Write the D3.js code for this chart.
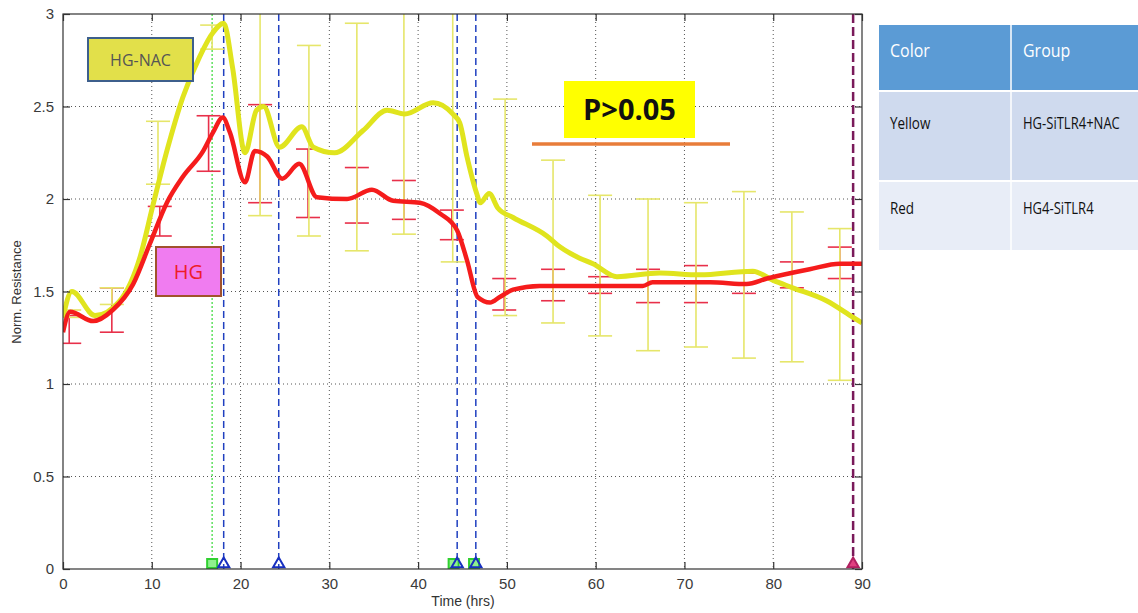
<!DOCTYPE html>
<meta charset="utf-8">
<script src="https://d3js.org/d3.v7.min.js"></script>
<style>
body { margin:0; background:white; overflow:hidden; }
svg { font-family: "Liberation Sans", Arial, sans-serif; }
</style>
<body>
<svg id="chart" width="1138" height="613"></svg>
<script>
// --- data ---
var nacT = [0, 1.0, 3.6, 6.4, 8.7, 10.1, 11.7, 13.5, 15.4, 16.9, 18.1, 19.1, 20.5, 21.8, 22.6, 24.4, 26.9, 28.2, 30.6, 33.8, 36.5, 38.5, 41.7, 43.9, 44.7, 45.5, 46.6, 47.0, 48.0, 49.0, 50.7, 54.5, 56.0, 58.2, 59.7, 62.4, 67.2, 71.7, 77.7, 80.0, 82.2, 86.0, 89.0, 90];
var nacV = [1.36, 1.50, 1.37, 1.45, 1.69, 1.96, 2.26, 2.55, 2.77, 2.90, 2.95, 2.71, 2.25, 2.48, 2.50, 2.28, 2.39, 2.28, 2.25, 2.37, 2.48, 2.46, 2.52, 2.46, 2.41, 2.23, 2.03, 1.98, 2.03, 1.95, 1.90, 1.80, 1.74, 1.68, 1.65, 1.58, 1.60, 1.59, 1.61, 1.56, 1.52, 1.45, 1.36, 1.33];

var hgT = [0, 0.8, 3.4, 5.6, 7.9, 9.8, 11.7, 13.5, 15.8, 16.9, 18.0, 18.8, 20.5, 21.6, 23.0, 24.7, 26.6, 28.6, 32.0, 34.8, 37.2, 40.2, 42.5, 44.4, 45.5, 46.7, 48.1, 49.2, 50.7, 53.7, 58.2, 65.3, 66.4, 72.9, 77.0, 79.3, 84.1, 87.5, 90];
var hgV = [1.28, 1.39, 1.34, 1.40, 1.54, 1.76, 1.98, 2.12, 2.26, 2.36, 2.44, 2.36, 2.09, 2.26, 2.23, 2.11, 2.19, 2.01, 2.00, 2.05, 1.99, 1.98, 1.92, 1.83, 1.67, 1.47, 1.44, 1.47, 1.51, 1.53, 1.53, 1.53, 1.55, 1.55, 1.54, 1.57, 1.62, 1.65, 1.65];

// error bars: time, low, high
var nacErrT  = [0.7, 5.5, 10.7, 16.8, 22.2, 27.7, 33.1, 38.4, 43.9, 49.8, 55.2, 60.5, 65.9, 71.3, 76.7, 82.1, 87.5];
var nacErrLo = [1.36, 1.43, 2.08, 2.81, 1.91, 1.80, 1.72, 1.81, 1.66, 1.37, 1.33, 1.26, 1.18, 1.20, 1.14, 1.12, 1.02];
var nacErrHi = [1.40, 1.52, 2.42, 2.94, 3.10, 2.83, 2.95, 3.10, 3.10, 2.54, 2.21, 2.02, 2.00, 1.98, 2.04, 1.93, 1.84];

var hgErrT  = [0.7, 5.5, 10.9, 16.4, 22.2, 27.6, 33.1, 38.4, 43.8, 49.7, 55.2, 60.5, 65.9, 71.3, 76.7, 82.1, 87.5];
var hgErrLo = [1.22, 1.28, 1.80, 2.15, 1.98, 1.90, 1.87, 1.89, 1.78, 1.40, 1.45, 1.49, 1.44, 1.44, 1.49, 1.52, 1.57];
var hgErrHi = [1.37, 1.52, 1.96, 2.45, 2.51, 2.27, 2.17, 2.10, 1.94, 1.57, 1.62, 1.58, 1.62, 1.64, 1.60, 1.66, 1.74];

// event markers along the time axis
var greenEvents = [16.8, 44.0, 46.3];
var blueEvents  = [18.1, 24.3, 44.4, 46.5];
var purpleEvents = [89.0];

var xTicks = [0, 10, 20, 30, 40, 50, 60, 70, 80, 90];
var yTicks = [0, 0.5, 1, 1.5, 2, 2.5, 3];

var tableHead = ["Color", "Group"];
var tableRows = [["Yellow", "HG-SiTLR4+NAC"], ["Red", "HG4-SiTLR4"]];

// --- layout ---
var mLeft = 63, mTop = 14, w = 799, h = 555;
var svg = d3.select('#chart');

var x = d3.scaleLinear().domain([0, 90]).range([mLeft, mLeft + w]);
var y = d3.scaleLinear().domain([0, 3]).range([mTop + h, mTop]);

var g = svg.append('g');

// grid
g.selectAll('.vgrid').data(xTicks.slice(1, -1)).enter().append('line')
  .attr('x1', function(d){ return x(d); }).attr('x2', function(d){ return x(d); })
  .attr('y1', mTop).attr('y2', mTop + h)
  .attr('stroke', '#555').attr('stroke-width', 1).attr('stroke-dasharray', '1,3');
g.selectAll('.hgrid').data(yTicks.slice(1, -1)).enter().append('line')
  .attr('y1', function(d){ return y(d); }).attr('y2', function(d){ return y(d); })
  .attr('x1', mLeft).attr('x2', mLeft + w)
  .attr('stroke', '#555').attr('stroke-width', 1).attr('stroke-dasharray', '1,3');

// clip for plot contents
svg.append('clipPath').attr('id', 'plotclip').append('rect')
  .attr('x', mLeft).attr('y', mTop).attr('width', w).attr('height', h);
var plot = svg.append('g').attr('clip-path', 'url(#plotclip)');

// event lines
plot.selectAll('.gl').data(greenEvents.slice(0, 1)).enter().append('line')
  .attr('x1', function(d){ return x(d); }).attr('x2', function(d){ return x(d); })
  .attr('y1', mTop).attr('y2', mTop + h)
  .attr('stroke', '#5ee05e').attr('stroke-width', 1.5).attr('stroke-dasharray', '2,2');
plot.selectAll('.bl').data(blueEvents).enter().append('line')
  .attr('x1', function(d){ return x(d); }).attr('x2', function(d){ return x(d); })
  .attr('y1', mTop).attr('y2', mTop + h)
  .attr('stroke', '#2040c0').attr('stroke-width', 1.5).attr('stroke-dasharray', '7,4');
plot.selectAll('.pl').data(purpleEvents).enter().append('line')
  .attr('x1', function(d){ return x(d); }).attr('x2', function(d){ return x(d); })
  .attr('y1', mTop).attr('y2', mTop + h)
  .attr('stroke', '#7a1a5a').attr('stroke-width', 2.5).attr('stroke-dasharray', '9,4');

// error bars
function errBars(ts, lo, hi, color) {
  var data = ts.map(function(t, i){ return {t: t, lo: lo[i], hi: hi[i]}; });
  var eg = plot.append('g').attr('stroke', color).attr('stroke-width', 1.6);
  eg.selectAll('.v').data(data).enter().append('line')
    .attr('x1', function(d){ return x(d.t); }).attr('x2', function(d){ return x(d.t); })
    .attr('y1', function(d){ return y(d.lo); }).attr('y2', function(d){ return y(d.hi); });
  eg.selectAll('.c1').data(data).enter().append('line')
    .attr('x1', function(d){ return x(d.t) - 12; }).attr('x2', function(d){ return x(d.t) + 12; })
    .attr('y1', function(d){ return y(d.lo); }).attr('y2', function(d){ return y(d.lo); });
  eg.selectAll('.c2').data(data).enter().append('line')
    .attr('x1', function(d){ return x(d.t) - 12; }).attr('x2', function(d){ return x(d.t) + 12; })
    .attr('y1', function(d){ return y(d.hi); }).attr('y2', function(d){ return y(d.hi); });
}
errBars(hgErrT, hgErrLo, hgErrHi, '#e8304a');
errBars(nacErrT, nacErrLo, nacErrHi, '#e6e66a');

// curves
var line = d3.line().x(function(d){ return x(d[0]); }).y(function(d){ return y(d[1]); })
  .curve(d3.curveMonotoneX);
plot.append('path').datum(d3.zip(nacT, nacV)).attr('d', line)
  .attr('fill', 'none').attr('stroke', '#e0e41e').attr('stroke-width', 5).attr('stroke-linejoin', 'round');
plot.append('path').datum(d3.zip(hgT, hgV)).attr('d', line)
  .attr('fill', 'none').attr('stroke', '#f51c1c').attr('stroke-width', 4.5).attr('stroke-linejoin', 'round');

// bottom markers
plot.selectAll('.gm').data(greenEvents).enter().append('rect')
  .attr('x', function(d){ return x(d) - 5; }).attr('y', mTop + h - 10)
  .attr('width', 10).attr('height', 9)
  .attr('fill', '#8ff08f').attr('stroke', '#30d030').attr('stroke-width', 2);
var tri = d3.symbol().type(d3.symbolTriangle).size(55);
plot.selectAll('.bm').data(blueEvents).enter().append('path')
  .attr('d', tri).attr('transform', function(d){ return 'translate(' + x(d) + ',' + (mTop + h - 5) + ')'; })
  .attr('fill', 'none').attr('stroke', '#1830c0').attr('stroke-width', 2);
plot.selectAll('.pm').data(purpleEvents).enter().append('path')
  .attr('d', tri).attr('transform', function(d){ return 'translate(' + x(d) + ',' + (mTop + h - 5) + ')'; })
  .attr('fill', '#e04080').attr('stroke', '#b02060').attr('stroke-width', 2);

// axes box
var axColor = '#333';
svg.append('rect').attr('x', mLeft).attr('y', mTop).attr('width', w).attr('height', h)
  .attr('fill', 'none').attr('stroke', axColor).attr('stroke-width', 1.2);

var xa = svg.append('g').attr('transform', 'translate(0,' + (mTop + h) + ')')
  .call(d3.axisBottom(x).tickValues(xTicks).tickSize(-7).tickPadding(9).tickFormat(d3.format('d')));
var xTop = svg.append('g').attr('transform', 'translate(0,' + mTop + ')')
  .call(d3.axisTop(x).tickValues(xTicks).tickSize(-7).tickFormat(''));
var ya = svg.append('g').attr('transform', 'translate(' + mLeft + ',0)')
  .call(d3.axisLeft(y).tickValues(yTicks).tickSize(-7).tickPadding(9).tickFormat(function(d){ return d; }));
var yRight = svg.append('g').attr('transform', 'translate(' + (mLeft + w) + ',0)')
  .call(d3.axisRight(y).tickValues(yTicks).tickSize(-7).tickFormat(''));
[xa, xTop, ya, yRight].forEach(function(a){
  a.select('.domain').remove();
  a.selectAll('line').attr('stroke', axColor).attr('stroke-width', 1.2);
  a.selectAll('text').attr('fill', '#3a3a3a').style('font-size', '15px').style('font-family', '"Liberation Sans", Arial, sans-serif');
});

// axis titles
svg.append('text').attr('x', 463).attr('y', 606).attr('text-anchor', 'middle')
  .style('font-size', '14px').attr('fill', '#333').text('Time (hrs)');
svg.append('text').attr('transform', 'translate(21,292) rotate(-90)').attr('text-anchor', 'middle')
  .style('font-size', '13px').attr('fill', '#333').text('Norm. Resistance');

// annotation boxes
svg.append('rect').attr('x', 88).attr('y', 38).attr('width', 105).attr('height', 43)
  .attr('fill', '#e2e04a').attr('stroke', '#3d5f8c').attr('stroke-width', 2);
svg.append('text').attr('x', 140.5).attr('y', 66).attr('text-anchor', 'middle')
  .style('font-size', '16px').style('font-family', '"Open Sans", sans-serif').attr('fill', '#555').text('HG-NAC');

svg.append('rect').attr('x', 156).attr('y', 247).attr('width', 65).attr('height', 49)
  .attr('fill', '#f07cf0').attr('stroke', '#a0522d').attr('stroke-width', 2);
svg.append('text').attr('x', 188.5).attr('y', 279).attr('text-anchor', 'middle')
  .style('font-size', '20px').style('font-family', '"Open Sans", sans-serif').attr('fill', '#ee1c2a').text('HG');

svg.append('rect').attr('x', 564).attr('y', 81).attr('width', 131).attr('height', 57)
  .attr('fill', '#ffff00');
svg.append('text').attr('x', 629.5).attr('y', 120).attr('text-anchor', 'middle')
  .style('font-size', '29px').style('font-weight', 'bold').style('font-family', '"Open Sans", sans-serif')
  .attr('fill', '#111').text('P>0.05');
svg.append('line').attr('x1', 532).attr('x2', 730).attr('y1', 144).attr('y2', 144)
  .attr('stroke', '#e87d3a').attr('stroke-width', 3.5);

// table
var tx = 879, colX = 1011, tw = 1138 - tx;
var tg = svg.append('g').style('font-family', '"Open Sans", sans-serif');
var rowY = [25, 92, 182], rowH = [65, 88, 68], rowFill = ['#5b9bd5', '#cfdaee', '#e8edf7'];
rowY.forEach(function(ry, i){
  tg.append('rect').attr('x', tx).attr('y', ry).attr('width', tw).attr('height', rowH[i]).attr('fill', rowFill[i]);
});
tg.append('line').attr('x1', colX).attr('x2', colX).attr('y1', 25).attr('y2', 250)
  .attr('stroke', 'white').attr('stroke-width', 1.5);
function condensed(t) {
  var n = t.node();
  t.attr('textLength', n.getComputedTextLength() * 0.84).attr('lengthAdjust', 'spacingAndGlyphs');
}
condensed(tg.append('text').attr('x', 890).attr('y', 57).attr('fill', 'white').style('font-size', '19px').text(tableHead[0]));
condensed(tg.append('text').attr('x', 1023).attr('y', 57).attr('fill', 'white').style('font-size', '19px').text(tableHead[1]));
var textY = [129, 214];
tableRows.forEach(function(r, i){
  condensed(tg.append('text').attr('x', 890).attr('y', textY[i]).attr('fill', '#111').style('font-size', '16px').text(r[0]));
  condensed(tg.append('text').attr('x', 1023).attr('y', textY[i]).attr('fill', '#111').style('font-size', '15.5px').text(r[1]));
});
</script>
</body>
</html>
